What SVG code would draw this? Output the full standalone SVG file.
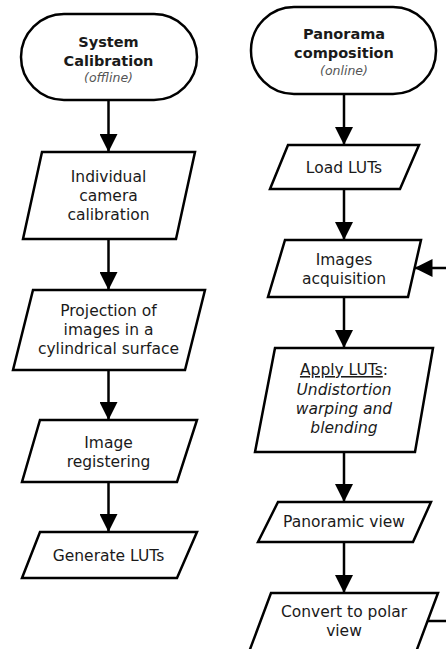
<svg xmlns="http://www.w3.org/2000/svg" width="446" height="649" viewBox="0 0 446 649">
<defs>
<marker id="ah" markerUnits="userSpaceOnUse" markerWidth="18" markerHeight="18" viewBox="0 0 16 16" refX="16" refY="8" orient="auto">
<path d="M0,0 L16,8 L0,16 Z" fill="#000"/>
</marker>
<style>
.sh{fill:#fff;stroke:#000;stroke-width:2.5;stroke-linejoin:miter}
.ln{fill:none;stroke:#000;stroke-width:2.5}
text{font-family:"DejaVu Sans","Liberation Sans",sans-serif;fill:#1a1a1a;text-anchor:middle;font-size:15.5px}
.b{font-weight:bold;font-size:14.5px}
.s{font-style:italic;font-size:12.5px;fill:#555}
.i{font-style:italic}
</style>
</defs>
<rect width="446" height="649" fill="#fff"/>
<g id="connectors">
<line class="ln" x1="108.5" y1="100" x2="108.5" y2="152" marker-end="url(#ah)"/>
<line class="ln" x1="108.5" y1="239" x2="108.5" y2="290" marker-end="url(#ah)"/>
<line class="ln" x1="108.5" y1="370" x2="108.5" y2="420" marker-end="url(#ah)"/>
<line class="ln" x1="108.5" y1="482" x2="108.5" y2="532" marker-end="url(#ah)"/>
<line class="ln" x1="344" y1="94" x2="344" y2="145" marker-end="url(#ah)"/>
<line class="ln" x1="344" y1="189" x2="344" y2="240" marker-end="url(#ah)"/>
<line class="ln" x1="344" y1="297" x2="344" y2="348" marker-end="url(#ah)"/>
<line class="ln" x1="344" y1="452" x2="344" y2="502" marker-end="url(#ah)"/>
<line class="ln" x1="344" y1="542" x2="344" y2="593" marker-end="url(#ah)"/>
<path class="ln" d="M428,621 H449 V268 H414.5" marker-end="url(#ah)"/>
</g>
<g id="sys-cal">
<rect class="sh" x="21" y="14" width="176" height="86" rx="43" ry="43"/>
<text class="b" x="108.5" y="47">System</text>
<text class="b" x="108.5" y="66">Calibration</text>
<text class="s" x="108.5" y="82">(offline)</text>
</g>
<g id="indiv-cal">
<polygon class="sh" points="42,152 195,152 176,239 23,239"/>
<text x="108.5" y="182">Individual</text>
<text x="108.5" y="201">camera</text>
<text x="108.5" y="220">calibration</text>
</g>
<g id="projection">
<polygon class="sh" points="33,290 205,290 185,370 13,370"/>
<text x="108.5" y="316">Projection of</text>
<text x="108.5" y="335">images in a</text>
<text x="108.5" y="354">cylindrical surface</text>
</g>
<g id="registering">
<polygon class="sh" points="40,420 197,420 177,482 22,482"/>
<text x="108.5" y="448">Image</text>
<text x="108.5" y="467">registering</text>
</g>
<g id="gen-luts">
<polygon class="sh" points="40,532 197,532 177,578 22,578"/>
<text x="108.5" y="561">Generate LUTs</text>
</g>
<g id="pano-comp">
<rect class="sh" x="251" y="7" width="185" height="87" rx="43" ry="43"/>
<text class="b" x="344" y="39">Panorama</text>
<text class="b" x="344" y="58">composition</text>
<text class="s" x="344" y="75">(online)</text>
</g>
<g id="load-luts">
<polygon class="sh" points="288,145 419,145 400,189 270,189"/>
<text x="344" y="173">Load LUTs</text>
</g>
<g id="acq">
<polygon class="sh" points="285,240 421,240 408,297 268,297"/>
<text x="344" y="265">Images</text>
<text x="344" y="284">acquisition</text>
</g>
<g id="apply">
<polygon class="sh" points="275,348 433,348 415,452 255,452"/>
<text x="344" y="375"><tspan text-decoration="underline">Apply LUTs</tspan>:</text>
<text class="i" x="344" y="395">Undistortion</text>
<text class="i" x="344" y="414">warping and</text>
<text class="i" x="344" y="433">blending</text>
</g>
<g id="pano-view">
<polygon class="sh" points="278,502 431,502 413,542 258,542"/>
<text x="344" y="527">Panoramic view</text>
</g>
<g id="polar">
<polygon class="sh" points="271,593 438,593 416,652 249,652"/>
<text x="344" y="617">Convert to polar</text>
<text x="344" y="636">view</text>
</g>
</svg>
